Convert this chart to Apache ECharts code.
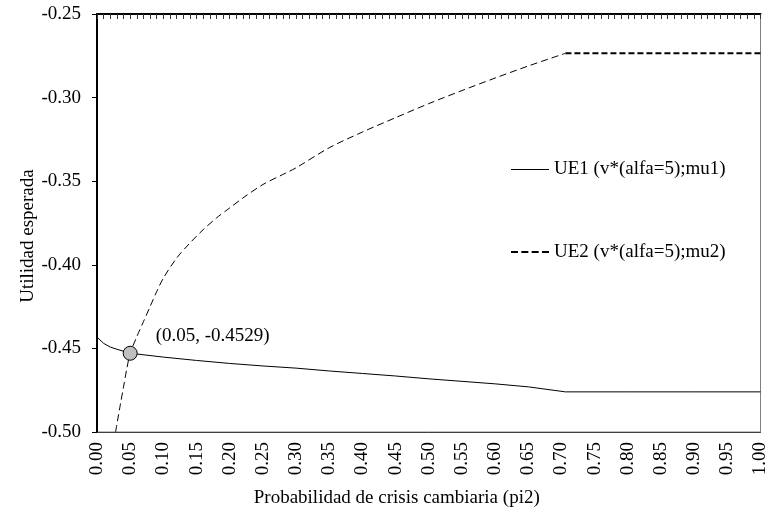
<!DOCTYPE html>
<html>
<head>
<meta charset="utf-8">
<script src="https://cdn.jsdelivr.net/npm/echarts@6/dist/echarts.min.js"></script>
<style>html,body{margin:0;padding:0;background:#fff}#c{width:770px;height:514px}</style>
</head>
<body>
<div id="c"></div>
<script>
const xTickLabels = ['0.00','0.05','0.10','0.15','0.20','0.25','0.30','0.35','0.40','0.45','0.50','0.55','0.60','0.65','0.70','0.75','0.80','0.85','0.90','0.95','1.00'];
const yTickLabels = ['-0.50','-0.45','-0.40','-0.35','-0.30','-0.25'];

const ue1X = [0.00, 0.01, 0.02, 0.03, 0.05, 0.10, 0.15, 0.20, 0.25, 0.30, 0.35, 0.40, 0.45, 0.50, 0.55, 0.60, 0.65, 0.706, 0.80, 0.90, 1.00];
const ue1Y = [-0.4432, -0.4470, -0.4492, -0.4505, -0.4529, -0.4552, -0.4572, -0.4590, -0.4605, -0.4618, -0.4635, -0.4650, -0.4665, -0.4682, -0.4697, -0.4712, -0.4730, -0.4760, -0.4760, -0.4760, -0.4760];

const ue2X = [0.028, 0.035, 0.040, 0.045, 0.050, 0.060, 0.070, 0.080, 0.090, 0.100, 0.120, 0.140, 0.160, 0.180, 0.200, 0.220, 0.250, 0.280, 0.300, 0.350, 0.400, 0.450, 0.500, 0.550, 0.600, 0.650, 0.706];
const ue2Y = [-0.500, -0.484, -0.473, -0.462, -0.4529, -0.443, -0.434, -0.425, -0.416, -0.408, -0.396, -0.387, -0.379, -0.372, -0.366, -0.360, -0.352, -0.346, -0.342, -0.330, -0.3206, -0.312, -0.3036, -0.2958, -0.2883, -0.2811, -0.2735];

const ue2FlatX = [0.706, 1.00];
const ue2FlatY = [-0.2735, -0.2735];

const markPoint = [0.05, -0.4529];
const markLabel = '(0.05, -0.4529)';

const nameUE1 = 'UE1 (v*(alfa=5);mu1)';
const nameUE2 = 'UE2 (v*(alfa=5);mu2)';

const zip = (xs, ys) => xs.map((x, i) => [x, ys[i]]);
const FONT = 'Liberation Serif';

const chart = echarts.init(document.getElementById('c'));
chart.setOption({
  animation: false,
  backgroundColor: '#fff',
  textStyle: { fontFamily: FONT, color: '#000' },
  grid: { left: 97, right: 5, top: 14, bottom: 82, show: true, borderColor: '#808080', borderWidth: 1, backgroundColor: 'transparent' },
  legend: {
    orient: 'vertical',
    left: 511, top: 159,
    padding: 0,
    itemWidth: 38, itemHeight: 2,
    itemGap: 63,
    symbolKeepAspect: false,
    textStyle: { fontFamily: FONT, fontSize: 19, color: '#000', lineHeight: 20 },
    data: [
      { name: nameUE1, icon: 'path://M0,1h38v1h-38z M0,0h0.01v0.01h-0.01z' },
      { name: nameUE2, icon: 'path://M0,0h7v2h-7z M10.3,0h7v2h-7z M20.6,0h7v2h-7z M30.9,0h7v2h-7z' }
    ]
  },
  xAxis: [
    {
      type: 'value', position: 'bottom', min: 0, max: 1, interval: 0.05,
      axisLine: { show: true, lineStyle: { color: '#404040', width: 1 } },
      axisTick: { show: false },
      splitLine: { show: false },
      axisLabel: { rotate: 90, margin: 10, fontSize: 19, fontFamily: FONT, color: '#000',
        formatter: v => xTickLabels[Math.round(v / 0.05)] },
      name: 'Probabilidad de crisis cambiaria (pi2)',
      nameLocation: 'middle', nameGap: 57, nameMoveOverlap: false,
      nameTextStyle: { fontFamily: FONT, fontSize: 19, color: '#000', padding: [0, 64, 0, 0] }
    },
    {
      type: 'value', position: 'top', min: 0, max: 1, interval: 0.01,
      axisLine: { show: true, lineStyle: { color: '#000', width: 2 } },
      axisTick: { show: true, inside: true, length: 5, lineStyle: { color: '#333', width: 1 } },
      axisLabel: { show: false },
      splitLine: { show: false }
    }
  ],
  yAxis: {
    type: 'value', min: -0.5, max: -0.25, interval: 0.05,
    axisLine: { show: true, lineStyle: { color: '#000', width: 2 } },
    axisTick: { show: true, length: 5, lineStyle: { color: '#000', width: 1 } },
    splitLine: { show: false },
    axisLabel: { margin: 16, fontSize: 19, fontFamily: FONT, color: '#000',
      formatter: v => yTickLabels[Math.round((v + 0.5) / 0.05)] },
    name: 'Utilidad esperada',
    nameLocation: 'middle', nameGap: 59, nameMoveOverlap: false,
    nameTextStyle: { fontFamily: FONT, fontSize: 19, color: '#000', padding: [0, 26, 0, 0] }
  },
  series: [
    {
      name: nameUE1, type: 'line', xAxisIndex: 0, data: zip(ue1X, ue1Y),
      symbol: 'none', lineStyle: { color: '#000', width: 1 }, itemStyle: { color: '#000' }
    },
    {
      name: nameUE2, type: 'line', xAxisIndex: 0, data: zip(ue2X, ue2Y),
      symbol: 'none', smooth: 0.3, lineStyle: { color: '#000', width: 1, type: [7, 4] }, itemStyle: { color: '#000' }
    },
    {
      name: 'UE2 flat', type: 'line', xAxisIndex: 0, data: zip(ue2FlatX, ue2FlatY),
      symbol: 'none', lineStyle: { color: '#000', width: 2, type: [6, 3] }, itemStyle: { color: '#000' }
    },
    {
      name: 'punto', type: 'scatter', xAxisIndex: 0, data: [markPoint],
      symbolSize: 14, itemStyle: { color: '#c0c0c0', borderColor: '#000', borderWidth: 1, opacity: 1 },
      label: { show: true, position: 'right', distance: 5, offset: [13, -17], formatter: markLabel,
        fontFamily: FONT, fontSize: 19, color: '#000' },
      z: 5
    }
  ]
});
</script>
</body>
</html>
